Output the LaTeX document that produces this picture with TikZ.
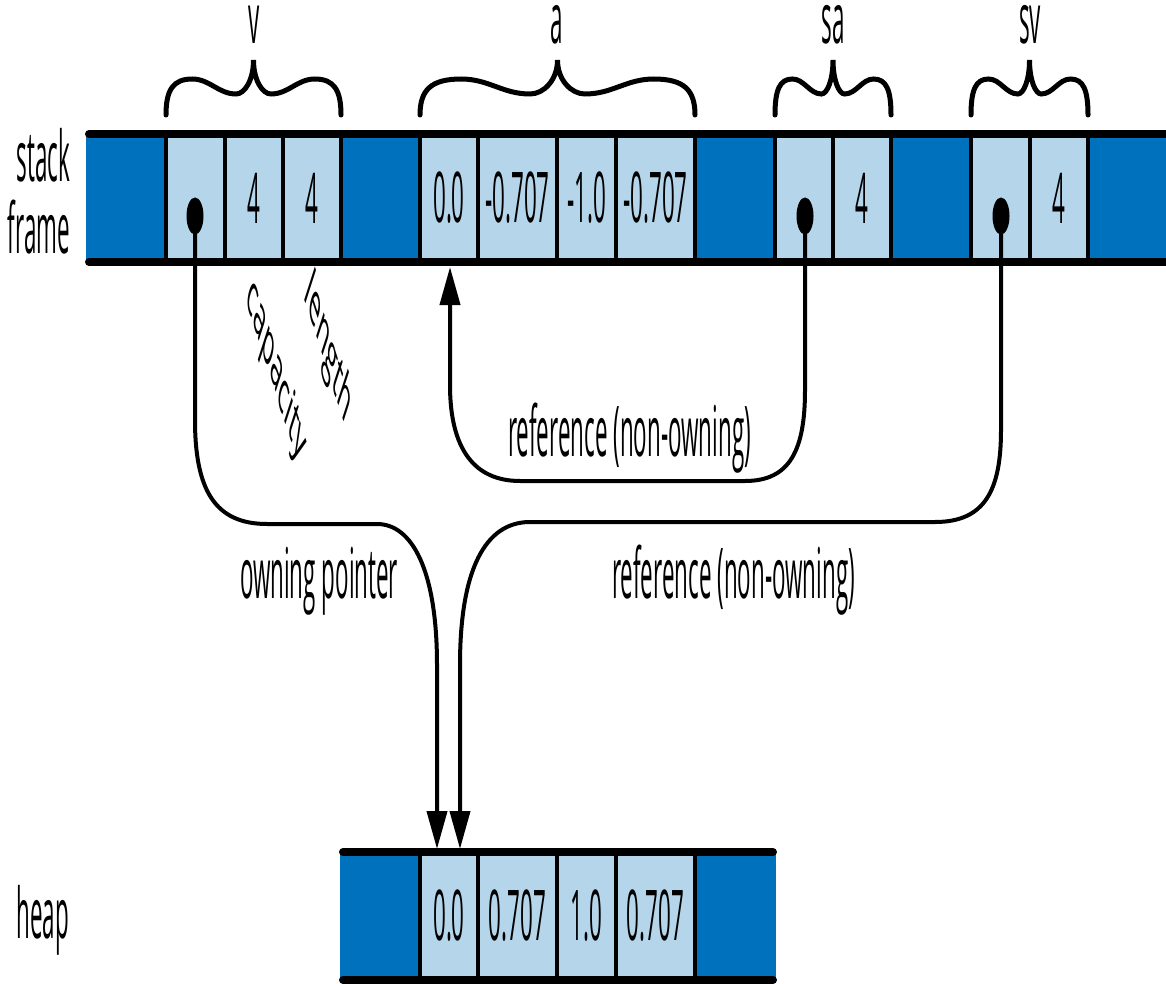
\documentclass[tikz,border=0pt]{standalone}
\usepackage{fontspec}
\setmainfont{Open Sans}
\usetikzlibrary{arrows.meta,shapes.geometric}
\definecolor{dk}{RGB}{0,113,188}
\definecolor{lt}{RGB}{180,213,234}
\newcommand{\bigf}{\fontsize{70}{84}\selectfont}
\newcommand{\midf}{\fontsize{62}{74}\selectfont}
\newcommand{\sqz}[1]{\scalebox{0.32}[1]{#1}}
\newcommand{\mybrace}[2]{%
 \pgfmathsetmacro{\bw}{#2-#1}\pgfmathsetmacro{\bm}{(#1+#2)/2}%
 \draw[brace] (#1,115) .. controls (#1,90) and ({#1+0.04*\bw},79) .. ({#1+0.15*\bw},79)
   .. controls ({#1+0.25*\bw},79) and ({#1+0.3*\bw},94) .. ({#1+0.4*\bw},94)
   .. controls ({\bm-0.05*\bw},94) and (\bm,80) .. (\bm,60)
   .. controls (\bm,80) and ({\bm+0.05*\bw},94) .. ({#2-0.4*\bw},94)
   .. controls ({#2-0.3*\bw},94) and ({#2-0.25*\bw},79) .. ({#2-0.15*\bw},79)
   .. controls ({#2-0.04*\bw},79) and (#2,90) .. (#2,115);}
\begin{document}
\begin{tikzpicture}[x=1pt,y=-1pt,
  cell/.style={draw=black, line width=4pt, fill=lt, minimum height=128pt, inner sep=0pt, font=\bigf},
  dcell/.style={fill=dk, minimum height=128pt, inner sep=0pt},
  lab/.style={font=\bigf, xscale=0.32, inner sep=0pt},
  rlab/.style={font=\midf, xscale=0.32, inner sep=0pt, rotate=-45},
  bar/.style={line width=8pt, line cap=round},
  brace/.style={line width=5pt, line cap=round},
  ptr/.style={line width=4pt},
  tip/.style={-{Triangle[length=38pt,width=20pt]}},
  dot/.style={ellipse, fill=black, minimum width=17pt, minimum height=37pt, inner sep=0pt}
]
\useasboundingbox (0,0) rectangle (1166,984);

% ---- stack frame ----
\node[dcell, minimum width=80pt] (s0) at (126,198) {};
\node[dcell, minimum width=79pt] (s1) at (380.5,198) {};
\node[dcell, minimum width=80pt] (s2) at (735,198) {};
\node[dcell, minimum width=80pt] (s3) at (931,198) {};
\node[dcell, minimum width=84pt] (s4) at (1130,198) {};

\node[cell, minimum width=59pt] (v1) at (195.5,198) {};
\node[cell, minimum width=58pt] (v2) at (254,198) {\sqz{4}};
\node[cell, minimum width=58pt] (v3) at (312,198) {\sqz{4}};

\node[cell, minimum width=58pt] (a1) at (449,198) {\sqz{0.0}};
\node[cell, minimum width=79pt] (a2) at (517.5,198) {\sqz{-0.707}};
\node[cell, minimum width=59pt] (a3) at (586.5,198) {\sqz{-1.0}};
\node[cell, minimum width=79pt] (a4) at (655.5,198) {\sqz{-0.707}};

\node[cell, minimum width=58pt] (sa1) at (804,198) {};
\node[cell, minimum width=58pt] (sa2) at (862,198) {\sqz{4}};

\node[cell, minimum width=59pt] (sv1) at (1000.5,198) {};
\node[cell, minimum width=58pt] (sv2) at (1059,198) {\sqz{4}};

\draw[bar] (89,134) -- (1175,134);
\draw[bar] (89,262) -- (1175,262);

% ---- heap ----
\node[dcell, minimum width=80pt] (h0) at (380,916) {};
\node[dcell, minimum width=81pt] (h5) at (735.5,916) {};
\node[cell, minimum width=58pt] (h1) at (449,916) {\sqz{0.0}};
\node[cell, minimum width=79pt] (h2) at (517.5,916) {\sqz{0.707}};
\node[cell, minimum width=59pt] (h3) at (586.5,916) {\sqz{1.0}};
\node[cell, minimum width=79pt] (h4) at (655.5,916) {\sqz{0.707}};
\draw[bar] (343,852) -- (773,852);
\draw[bar] (343,980) -- (773,980);

% ---- braces and names ----
\mybrace{166}{341}
\mybrace{420}{695}
\mybrace{775}{891}
\mybrace{971}{1088}
\node[lab, anchor=base] (lv) at (254,44) {v};
\node[lab, anchor=base] (la) at (557,44) {a};
\node[lab, anchor=base] (lsa) at (833,44) {sa};
\node[lab, anchor=base] (lsv) at (1030,44) {sv};

% ---- side labels ----
\node[lab, anchor=base east] (lstack) at (70,182) {stack};
\node[lab, anchor=base east] (lframe) at (70,253) {frame};
\node[lab, anchor=base east] (lheap) at (69,938) {heap};

% ---- pointers ----
\node[dot] (vp) at (195,216) {};
\node[dot] (sap) at (805,216) {};
\node[dot] (svp) at (1001,216) {};
\coordinate (hin1) at (437,849);
\coordinate (hin2) at (460,849);
\coordinate (ain) at (450,267);

\draw[ptr,tip] (vp.center) -- (195,420) .. controls (195,490) and (215,524) .. (267,524)
   -- (377,524) .. controls (412,524) and (437,570) .. (437,665) -- (hin1);
\draw[ptr,tip] (svp.center) -- (1001,430) .. controls (1001,490) and (985,522) .. (935,522)
   -- (530,522) .. controls (485,522) and (460,570) .. (460,665) -- (hin2);
\draw[ptr,tip] (sap.center) -- (805,390) .. controls (805,450) and (790,481) .. (745,481)
   -- (520,481) .. controls (475,481) and (450,450) .. (450,385) -- (ain);

% ---- connector labels ----
\node[lab, anchor=base west] (lown) at (240,598) {owning pointer};
\node[lab, anchor=base west] (lref1) at (508,456) {reference (non-owning)};
\node[lab, anchor=base west] (lref2) at (612,598) {reference (non-owning)};
\node[rlab] (llen) at (328,350) {length};
\node[rlab] (lcap) at (276,372) {capacity};
\end{tikzpicture}
\end{document}
